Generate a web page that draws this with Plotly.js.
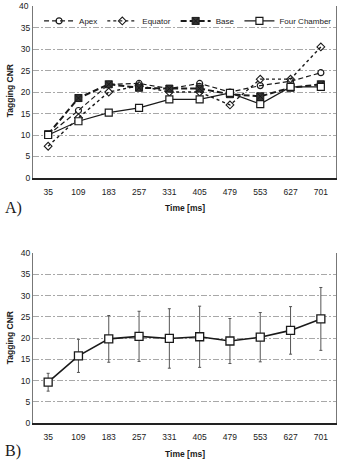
<!DOCTYPE html>
<html>
<head>
<meta charset="utf-8">
<script src="https://cdn.plot.ly/plotly-3.0.1.min.js"></script>
<style>
  html, body { margin: 0; padding: 0; background: #fff; }
  #chart { width: 342px; height: 461px; }
</style>
</head>
<body>
<div id="chart"></div>
<script>
// Time points (ms) shared by both panels
const times = ['35', '109', '183', '257', '331', '405', '479', '553', '627', '701'];

// Panel A: tagging CNR per slice
const apex        = [10.0, 15.7, 21.8, 22.0, 20.8, 22.0, 20.0, 21.5, 22.5, 24.5];
const equator     = [7.4, 14.0, 20.0, 21.5, 20.0, 20.0, 17.0, 23.0, 23.0, 30.5];
const base        = [10.2, 18.6, 21.8, 21.0, 20.8, 20.8, 19.5, 19.0, 21.0, 21.8];
const fourChamber = [10.0, 13.2, 15.2, 16.3, 18.3, 18.3, 19.8, 17.2, 21.2, 21.2];

// Panel B: mean tagging CNR with standard deviation
const meanCNR = [9.6, 15.8, 19.8, 20.4, 19.9, 20.3, 19.3, 20.2, 21.8, 24.5];
const sdCNR   = [2.1, 3.9, 5.5, 5.9, 7.0, 7.2, 5.3, 5.8, 5.6, 7.4];

// Value axis ticks
const cnrTicks = [0, 5, 10, 15, 20, 25, 30, 35, 40];
const cnrMax = cnrTicks[cnrTicks.length - 1];

const ink = '#1a1a1a';
const tickFont = { family: 'Liberation Sans, Arial, sans-serif', size: 8.5, color: ink };

const traces = [
  {
    x: times, y: apex, name: 'Apex', type: 'scatter', mode: 'lines+markers',
    line: { color: ink, width: 1.2, dash: '5px,3px' },
    marker: { symbol: 'circle-open', size: 6, color: ink, line: { width: 1.2 } },
    xaxis: 'x', yaxis: 'y'
  },
  {
    x: times, y: equator, name: 'Equator', type: 'scatter', mode: 'lines+markers',
    line: { color: ink, width: 1.4, dash: 'dot' },
    marker: { symbol: 'diamond-open', size: 6, color: ink, line: { width: 1.1 } },
    xaxis: 'x', yaxis: 'y'
  },
  {
    x: times, y: base, name: 'Base', type: 'scatter', mode: 'lines+markers',
    line: { color: ink, width: 2, dash: '6px,3px' },
    marker: { symbol: 'square-x', size: 7, color: '#333', line: { width: 1, color: ink } },
    xaxis: 'x', yaxis: 'y'
  },
  {
    x: times, y: fourChamber, name: 'Four Chamber', type: 'scatter', mode: 'lines+markers',
    line: { color: ink, width: 1.2 },
    marker: { symbol: 'square', size: 7, color: '#fff', line: { width: 1.2, color: ink } },
    xaxis: 'x', yaxis: 'y'
  },
  {
    x: times, y: meanCNR, name: 'Mean', type: 'scatter', mode: 'lines+markers',
    showlegend: false,
    line: { color: ink, width: 1.6 },
    marker: { symbol: 'square', size: 8, color: '#fff', line: { width: 1.3, color: ink } },
    error_y: { type: 'data', array: sdCNR, visible: true, color: '#555', thickness: 1, width: 1.5 },
    xaxis: 'x2', yaxis: 'y2'
  }
];

const gridStyle = {
  showgrid: true, gridcolor: '#a8a8a8', gridwidth: 1, griddash: '6px,2px,2px,2px',
  zeroline: false
};

const yBase = Object.assign({}, gridStyle, {
  range: [0, 40.02], tickmode: 'array', tickvals: cnrTicks, fixedrange: true,
  showline: true, linecolor: '#777', linewidth: 1, mirror: true,
  ticks: '', tickfont: tickFont, ticklabeloverflow: 'allow'
});

const xBase = {
  type: 'category', range: [-0.5, 9.5], showgrid: false, zeroline: false,
  showline: true, linecolor: '#222', linewidth: 2, ticks: '',
  tickfont: tickFont, fixedrange: true, ticklabelstandoff: 5
};

// Plot area spans y = 6 .. 423 px
const H = 417;
const py = (px) => (423 - px) / H;

const layout = {
  width: 342, height: 461,
  margin: { l: 33, r: 6, t: 6, b: 38 },
  paper_bgcolor: '#fff', plot_bgcolor: '#fff',
  showlegend: true,
  legend: {
    orientation: 'h', x: 0.02, xanchor: 'left', y: 0.999, yanchor: 'top',
    font: { family: 'Liberation Sans, Arial, sans-serif', size: 8, color: ink },
    bgcolor: 'rgba(255,255,255,0)', itemwidth: 30, tracegroupgap: 0,
    traceorder: 'normal'
  },
  xaxis: Object.assign({}, xBase, { anchor: 'y', domain: [0, 1] }),
  // top panel: the label of its top tick is placed as an annotation below
  yaxis: Object.assign({}, yBase, { domain: [py(178), 1], anchor: 'x', tickvals: cnrTicks.slice(0, -1) }),
  xaxis2: Object.assign({}, xBase, { anchor: 'y2', domain: [0, 1] }),
  yaxis2: Object.assign({}, yBase, { domain: [0, py(253)], anchor: 'x2' }),
  annotations: [
    { text: String(cnrMax), xref: 'paper', yref: 'y', x: -0.008, y: cnrMax,
      xanchor: 'right', yanchor: 'middle', showarrow: false, font: tickFont },
    { text: '<b>Tagging CNR</b>', textangle: -90, xref: 'paper', yref: 'paper',
      x: -0.075, y: py(91), xanchor: 'center', yanchor: 'middle', showarrow: false,
      font: { family: 'Liberation Sans, Arial, sans-serif', size: 8.5, color: ink } },
    { text: '<b>Tagging CNR</b>', textangle: -90, xref: 'paper', yref: 'paper',
      x: -0.075, y: py(338), xanchor: 'center', yanchor: 'middle', showarrow: false,
      font: { family: 'Liberation Sans, Arial, sans-serif', size: 8.5, color: ink } },
    { text: '<b>Time [ms]</b>', xref: 'paper', yref: 'paper',
      x: 0.5, y: py(208), xanchor: 'center', yanchor: 'middle', showarrow: false,
      font: { family: 'Liberation Sans, Arial, sans-serif', size: 8.5, color: ink } },
    { text: '<b>Time [ms]</b>', xref: 'paper', yref: 'paper',
      x: 0.5, y: py(454), xanchor: 'center', yanchor: 'middle', showarrow: false,
      font: { family: 'Liberation Sans, Arial, sans-serif', size: 8.5, color: ink } },
    { text: 'A)', xref: 'paper', yref: 'paper',
      x: -0.1, y: py(208), xanchor: 'left', yanchor: 'middle', showarrow: false,
      font: { family: 'Liberation Serif, Times New Roman, serif', size: 16, color: ink } },
    { text: 'B)', xref: 'paper', yref: 'paper',
      x: -0.1, y: py(451), xanchor: 'left', yanchor: 'middle', showarrow: false,
      font: { family: 'Liberation Serif, Times New Roman, serif', size: 16, color: ink } }
  ]
};

Plotly.newPlot('chart', traces, layout, { staticPlot: true, displayModeBar: false });
</script>
</body>
</html>
